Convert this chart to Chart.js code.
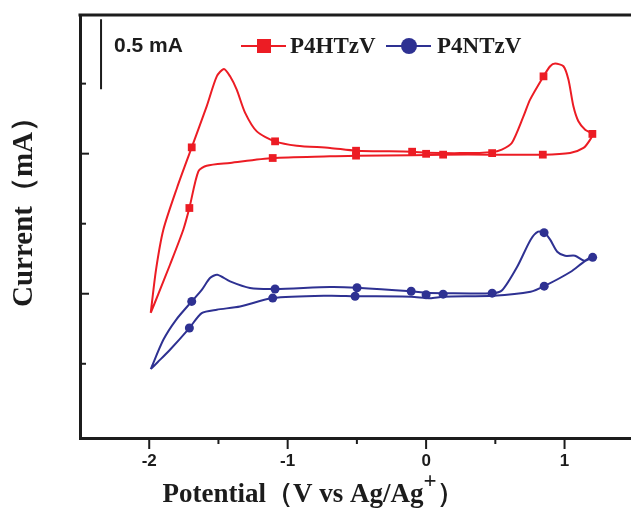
<!DOCTYPE html>
<html><head><meta charset="utf-8">
<script src="https://cdn.jsdelivr.net/npm/chart.js@4"></script>
<style>html,body{margin:0;padding:0;background:#fff}</style>
</head><body>
<canvas id="c" width="631" height="508"></canvas>
<script>
// ---- data ----
const xTickValues = [-2, -1, 0, 1];
const xMinorTicks = [-1.5, -0.5, 0.5];
const yMajorTicks = [0, 1];
const yMinorTicks = [-0.5, 0.5, 1.5];

const seriesNames = ['P4HTzV', 'P4NTzV'];

// P4HTzV loop (offset trace)
const redX = [-1.989,-1.951,-1.898,-1.799,-1.693,-1.585,-1.512,-1.460,-1.416,-1.368,-1.308,-1.223,-1.091,-0.934,-0.694,-0.506,-0.101,0.000,0.246,0.477,0.547,0.619,0.703,0.751,0.848,0.896,0.932,0.992,1.028,1.064,1.100,1.149,1.201,1.185,1.137,1.040,0.843,0.477,0.123,-0.101,-0.506,-0.694,-1.108,-1.416,-1.585,-1.645,-1.710,-1.754,-1.850,-1.936,-1.989];
const redY = [-0.136,0.171,0.457,0.757,1.045,1.338,1.552,1.605,1.552,1.457,1.293,1.159,1.088,1.057,1.041,1.021,1.014,1.007,1.004,1.011,1.029,1.076,1.266,1.386,1.552,1.624,1.643,1.624,1.529,1.338,1.231,1.171,1.141,1.100,1.041,1.005,0.993,0.993,0.993,0.989,0.986,0.981,0.969,0.934,0.914,0.874,0.612,0.457,0.207,-0.007,-0.136];
const redMarkX = [-1.693,-1.710,-1.091,-1.108,-0.506,-0.506,-0.101,0.000,0.123,0.477,0.843,0.848,1.201];
const redMarkY = [1.045,0.612,1.088,0.969,1.021,0.986,1.014,0.999,0.993,1.004,0.993,1.552,1.141];

// P4NTzV loop
const blueX = [-1.989,-1.898,-1.806,-1.693,-1.619,-1.561,-1.508,-1.416,-1.272,-1.091,-0.694,-0.499,-0.108,0.000,0.123,0.477,0.549,0.658,0.755,0.809,0.853,0.896,0.947,1.004,1.076,1.142,1.191,1.203,1.142,1.045,0.853,0.755,0.488,0.123,0.029,-0.108,-0.513,-0.694,-1.108,-1.344,-1.512,-1.621,-1.710,-1.850,-1.936,-1.989];
const blueY = [-0.538,-0.329,-0.186,-0.055,0.029,0.112,0.136,0.088,0.041,0.034,0.048,0.043,0.018,0.007,0.004,0.004,0.025,0.193,0.386,0.443,0.436,0.386,0.300,0.271,0.271,0.236,0.264,0.260,0.229,0.157,0.054,0.014,-0.014,-0.021,-0.032,-0.021,-0.018,-0.014,-0.031,-0.091,-0.114,-0.138,-0.245,-0.400,-0.486,-0.538];
const blueMarkX = [-1.693,-1.710,-1.091,-1.108,-0.499,-0.513,-0.108,0.000,0.123,0.477,0.853,0.852,1.203];
const blueMarkY = [-0.055,-0.245,0.034,-0.031,0.043,-0.018,0.018,-0.007,-0.003,0.004,0.054,0.436,0.260];

// 0.5 mA scale bar
const scaleBarX = [-2.348, -2.348];
const scaleBarY = [1.96, 1.46];
const scaleBarLabel = '0.5 mA';

const RED = '#ec1c24';
const BLUE = '#2e3192';
const INK = '#1c1c1c';

const pts = (xs, ys) => xs.map((x, i) => ({x, y: ys[i]}));

const decor = {
  id: 'decor',
  afterDraw(chart) {
    const {ctx, chartArea: a, scales: {x, y}} = chart;
    ctx.save();
    ctx.strokeStyle = INK;
    // top frame line
    ctx.lineWidth = 3;
    ctx.beginPath(); ctx.moveTo(a.left - 1.5, a.top); ctx.lineTo(a.right, a.top); ctx.stroke();
    // ticks
    ctx.lineWidth = 2;
    const seg = (x1, y1, x2, y2) => { ctx.beginPath(); ctx.moveTo(x1, y1); ctx.lineTo(x2, y2); ctx.stroke(); };
    xTickValues.forEach(v => { const p = x.getPixelForValue(v); seg(p, a.bottom, p, a.bottom + 11); });
    xMinorTicks.forEach(v => { const p = x.getPixelForValue(v); seg(p, a.bottom, p, a.bottom + 6); });
    yMajorTicks.forEach(v => { const p = y.getPixelForValue(v); seg(a.left, p, a.left + 9, p); });
    yMinorTicks.forEach(v => { const p = y.getPixelForValue(v); seg(a.left, p, a.left + 6, p); });

    // scale-bar label and legend
    const ly = 46;
    ctx.fillStyle = INK;
    ctx.textBaseline = 'middle';
    ctx.textAlign = 'left';
    ctx.font = 'bold 21px "Liberation Sans", Arial, sans-serif';
    ctx.fillText(scaleBarLabel, 114, ly);

    ctx.lineWidth = 2;
    ctx.strokeStyle = RED;
    seg(241, ly, 286, ly);
    ctx.fillStyle = RED;
    ctx.fillRect(264 - 7, ly - 7, 14, 14);
    ctx.strokeStyle = BLUE;
    seg(386, ly, 431, ly);
    ctx.fillStyle = BLUE;
    ctx.beginPath(); ctx.arc(409, ly, 8, 0, Math.PI * 2); ctx.fill();

    ctx.fillStyle = INK;
    ctx.font = 'bold 23px "Liberation Serif", "Times New Roman", serif';
    ctx.fillText(seriesNames[0], 290, ly + 1);
    ctx.fillText(seriesNames[1], 437, ly + 1);

    // axis titles
    ctx.font = 'bold 29px "Liberation Serif", "Times New Roman", serif';
    ctx.save();
    ctx.translate(25, 205);
    ctx.rotate(-Math.PI / 2);
    ctx.textAlign = 'center';
    ctx.fillText('Current（mA）', 0, 0);
    ctx.restore();

    const f1 = 'bold 27px "Liberation Serif", "Times New Roman", serif';
    const f2 = 'bold 23px "Liberation Serif", "Times New Roman", serif';
    const p1 = 'Potential（V vs Ag/Ag', p2 = '+', p3 = '）';
    ctx.font = f1; const w1 = ctx.measureText(p1).width, w3 = ctx.measureText(p3).width;
    ctx.font = f2; const w2 = ctx.measureText(p2).width;
    let sx = 313 - (w1 + w2 + w3) / 2;
    const base = 502;
    ctx.textBaseline = 'alphabetic';
    ctx.textAlign = 'left';
    ctx.font = f1; ctx.fillText(p1, sx, base); sx += w1;
    ctx.font = f2; ctx.fillText(p2, sx, base - 14); sx += w2;
    ctx.font = f1; ctx.fillText(p3, sx, base);
    ctx.restore();
  }
};

new Chart(document.getElementById('c'), {
  type: 'scatter',
  data: {
    datasets: [
      {label: seriesNames[0], data: pts(redX, redY), showLine: true, borderColor: RED, borderWidth: 2, pointRadius: 0, tension: 0.25, fill: false},
      {label: seriesNames[0] + ' markers', data: pts(redMarkX, redMarkY), showLine: false, pointStyle: 'rect', pointRadius: 5.5, backgroundColor: RED, borderColor: RED, borderWidth: 0},
      {label: seriesNames[1], data: pts(blueX, blueY), showLine: true, borderColor: BLUE, borderWidth: 2, pointRadius: 0, tension: 0.25, fill: false},
      {label: seriesNames[1] + ' markers', data: pts(blueMarkX, blueMarkY), showLine: false, pointStyle: 'circle', pointRadius: 4.5, backgroundColor: BLUE, borderColor: BLUE, borderWidth: 0},
      {label: 'scale bar', data: pts(scaleBarX, scaleBarY), showLine: true, borderColor: INK, borderWidth: 2, pointRadius: 0}
    ]
  },
  options: {
    responsive: false,
    animation: false,
    layout: {autoPadding: false, padding: {top: 15, right: 0, left: 0, bottom: 0}},
    plugins: {legend: {display: false}, tooltip: {enabled: false}},
    scales: {
      x: {
        type: 'linear', min: -2.5, max: 1.48,
        grid: {display: false},
        border: {display: true, color: INK, width: 3},
        afterBuildTicks(s) { s.ticks = xTickValues.map(v => ({value: v})); },
        ticks: {padding: 5, color: INK, font: {family: '"Liberation Sans", Arial, sans-serif', weight: 'bold', size: 17}, callback: v => String(v)},
        afterFit(s) { s.height = 70; }
      },
      y: {
        type: 'linear', min: -1.03, max: 1.99,
        grid: {display: false},
        border: {display: true, color: INK, width: 3},
        ticks: {display: false},
        afterFit(s) { s.width = 80; }
      }
    }
  },
  plugins: [decor]
});
</script>
</body></html>
